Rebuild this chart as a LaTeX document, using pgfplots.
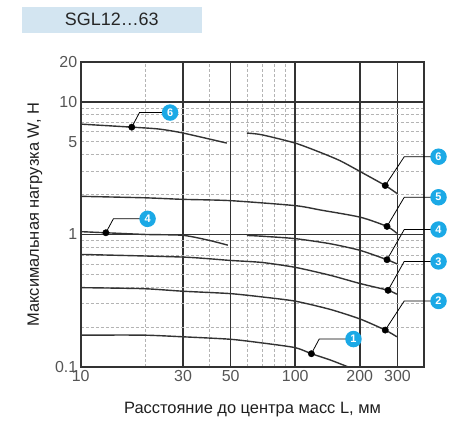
\documentclass[border=0pt]{standalone}
\usepackage{fontspec}
\setmainfont{Liberation Sans}
\usepackage{pgfplots}
\pgfplotsset{compat=1.18}
\definecolor{curve}{HTML}{333333}
\definecolor{gridc}{HTML}{B4B4B4}
\definecolor{ticktext}{HTML}{555555}
\definecolor{badge}{HTML}{1BA9E6}
\definecolor{titlebg}{HTML}{D3E5F1}

\tikzset{badge/.style={circle, fill=badge, text=white, inner sep=0pt,
    minimum size=16.5bp, font=\bfseries\fontsize{11}{12}\selectfont}}

\begin{document}
\begin{tikzpicture}[x=1bp,y=1bp]
\path[use as bounding box] (0,0) rectangle (458,421);
\fill[titlebg] (22,388.3) rectangle (201.7,414);
\node[font=\fontsize{18}{20}\selectfont, text=black!85] at (111.8,401.2) {SGL12…63};

\begin{axis}[
    at={(80.7bp,54bp)}, anchor=south west,
    scale only axis, width=343.6bp, height=305bp,
    xmode=log, ymode=log,
    xmin=10, xmax=400, ymin=0.1, ymax=20,
    xtick={10,30,50,100,200,300},
    xticklabels={10,30,50,100,200,300},
    ytick={0.1,1,10,20},
    yticklabels={0.1,1,10,20},
    extra y ticks={5}, extra y tick labels={5},
    extra y tick style={grid=none},
    minor xtick={20,40,60,70,80,90},
    minor ytick={0.2,0.3,0.4,0.5,0.6,0.7,0.8,0.9,2,3,4,5,6,7,8,9},
    grid=both,
    major grid style={curve, line width=1.7bp},
    minor grid style={gridc, dash pattern=on 3bp off 2bp, line width=0.7bp},
    major tick length=0pt, minor tick length=0pt,
    axis line style={curve, line width=2bp},
    tick label style={font=\fontsize{16}{18}\selectfont, text=ticktext},
    xlabel={Расстояние до центра масс L, мм},
    ylabel={Максимальная нагрузка W, Н},
    label style={font=\fontsize{16.5}{18}\selectfont, text=black!88},
    xlabel style={at={(axis description cs:0.5,0)}, anchor=center, yshift=-43bp},
    ylabel style={at={(axis description cs:0,0.5)}, anchor=center, yshift=45.7bp},
    clip=false,
]
% curve 1
\addplot[curve, line width=1.4bp, smooth, tension=0.4] coordinates {
  (10,0.174) (19.6,0.174) (30,0.169) (49.7,0.162) (69.9,0.152)
  (100,0.140) (119,0.126) (145.7,0.113) (177,0.100)};
% curve 2
\addplot[curve, line width=1.4bp, smooth, tension=0.4] coordinates {
  (10,0.397) (19.6,0.390) (30,0.373) (49.7,0.358) (69.9,0.338)
  (100,0.314) (145.7,0.272) (201,0.230) (263,0.190) (298,0.169)};
% curve 3
\addplot[curve, line width=1.4bp, smooth, tension=0.4] coordinates {
  (10,0.707) (30,0.675) (49.7,0.637) (69.9,0.615) (100,0.565)
  (145.7,0.492) (201,0.426) (271,0.379) (298,0.354)};
% curve 4, two parts
\addplot[curve, line width=1.4bp, smooth, tension=0.4] coordinates {
  (10,1.05) (13.1,1.03) (20,1.00) (30,0.985) (40,0.90) (48.5,0.83)};
\addplot[curve, line width=1.4bp, smooth, tension=0.4] coordinates {
  (59.5,0.983) (69.9,0.97) (100,0.93) (145.7,0.851) (201,0.758)
  (268,0.645) (298,0.600)};
% curve 5
\addplot[curve, line width=1.4bp, smooth, tension=0.4] coordinates {
  (10,1.94) (20,1.89) (30,1.84) (49.7,1.80) (100,1.65) (130.9,1.53)
  (201,1.35) (268,1.15) (298,1.02)};
% curve 6, two parts
\addplot[curve, line width=1.4bp, smooth, tension=0.4] coordinates {
  (10,6.80) (17.3,6.45) (23,6.25) (29.6,5.85) (48,4.89)};
\addplot[curve, line width=1.4bp, smooth, tension=0.4] coordinates {
  (59.5,5.82) (69.9,5.65) (100,4.89) (130.9,4.16) (162,3.60)
  (201,2.98) (263,2.34) (298,2.04)};

% leader lines
\addplot[black, line width=0.8bp] coordinates {(17.3,6.45) (18.8,8.31) (26.1,8.31)};
\addplot[black, line width=0.8bp] coordinates {(13.1,1.03) (14.2,1.312) (20.5,1.312)};
\addplot[black, line width=0.8bp] coordinates {(263,2.34) (322.5,3.86) (466,3.86)};
\addplot[black, line width=0.8bp] coordinates {(268,1.15) (322.5,1.908) (466,1.908)};
\addplot[black, line width=0.8bp] coordinates {(268,0.645) (322.5,1.09) (466,1.09)};
\addplot[black, line width=0.8bp] coordinates {(271,0.379) (322.5,0.626) (466,0.626)};
\addplot[black, line width=0.8bp] coordinates {(263,0.190) (322.5,0.315) (466,0.315)};
\addplot[black, line width=0.8bp] coordinates {(119,0.126) (129.4,0.1625) (187,0.1625)};

% dots
\addplot[only marks, mark=*, mark size=3.2bp, black] coordinates {
  (17.3,6.45) (13.1,1.03) (263,2.34) (268,1.15) (268,0.645)
  (271,0.379) (263,0.190) (119,0.126)};

% badges
\node[badge] at (axis cs:26.1,8.31) {6};
\node[badge] at (axis cs:20.5,1.312) {4};
\node[badge] at (axis cs:466,3.86) {6};
\node[badge] at (axis cs:466,1.908) {5};
\node[badge] at (axis cs:466,1.09) {4};
\node[badge] at (axis cs:466,0.626) {3};
\node[badge] at (axis cs:466,0.315) {2};
\node[badge] at (axis cs:187,0.1625) {1};
\end{axis}
\end{tikzpicture}
\end{document}
